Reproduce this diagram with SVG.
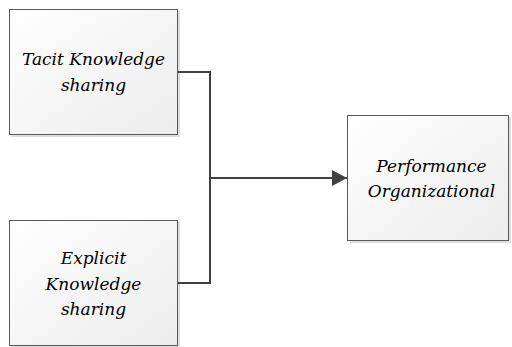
<svg xmlns="http://www.w3.org/2000/svg" width="512" height="347" viewBox="0 0 512 347">
<defs>
<linearGradient id="g" x1="0" y1="0" x2="1" y2="1">
<stop offset="0" stop-color="#ffffff"/>
<stop offset="1" stop-color="#ececec"/>
</linearGradient>
<marker id="arr" markerWidth="16" markerHeight="18" refX="15" refY="8" orient="auto" markerUnits="userSpaceOnUse">
<path d="M0,0 L15,8 L0,16 Z" fill="#404040"/>
</marker>
<style>
.shadow{fill:#c8c8c8;opacity:0.6}
.box{fill:url(#g);stroke:#5a5a5a;stroke-width:1}
.t{font-family:"DejaVu Serif","Liberation Serif",serif;font-style:italic;font-size:17px;fill:#000;text-anchor:middle}
.c{fill:none;stroke:#404040;stroke-width:2}
</style>
</defs>
<rect width="512" height="347" fill="#fff"/>
<g id="tacit">
<rect class="shadow" x="11" y="11" width="169" height="126"/>
<rect class="box" x="9.5" y="9.5" width="168" height="125"/>
<text class="t" x="93.5" y="65">Tacit Knowledge</text>
<text class="t" x="93.5" y="91">sharing</text>
</g>
<g id="explicit">
<rect class="shadow" x="11" y="222" width="169" height="126"/>
<rect class="box" x="9.5" y="220.5" width="168" height="125"/>
<text class="t" x="93.5" y="264">Explicit</text>
<text class="t" x="93.5" y="290">Knowledge</text>
<text class="t" x="93.5" y="315">sharing</text>
</g>
<g id="performance">
<rect class="shadow" x="350" y="117" width="161" height="126"/>
<rect class="box" x="347.5" y="115.5" width="161" height="125"/>
<text class="t" x="431.5" y="172">Performance</text>
<text class="t" x="431.5" y="197">Organizational</text>
</g>
<g id="connectors">
<polyline class="c" points="178,72 210,72 210,283 178,283"/>
<line class="c" x1="210" y1="178" x2="347" y2="178" marker-end="url(#arr)"/>
</g>
</svg>
